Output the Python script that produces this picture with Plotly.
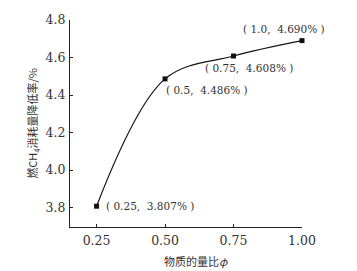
import plotly.graph_objects as go

ratio = [0.25, 0.50, 0.75, 1.00]
reduction = [3.807, 4.486, 4.608, 4.690]
labels = ["( 0.25,  3.807% )", "( 0.5,  4.486% )", "( 0.75,  4.608% )", "( 1.0,  4.690% )"]
x_ticks = [0.25, 0.50, 0.75, 1.00]
x_ticktext = ["0.25", "0.50", "0.75", "1.00"]
y_ticks = [3.8, 4.0, 4.2, 4.4, 4.6, 4.8]
y_ticktext = ["3.8", "4.0", "4.2", "4.4", "4.6", "4.8"]

num_font = "DejaVu Serif, serif"
cjk_font = "Noto Sans CJK SC"
txt_color = "#333333"

fig = go.Figure()
fig.add_trace(go.Scatter(
    x=ratio, y=reduction, mode="lines+markers",
    line=dict(color="#111111", width=1.2, shape="spline", smoothing=1.0),
    marker=dict(symbol="square", size=5, color="#111111"),
    showlegend=False, cliponaxis=False,
))

# label offsets (pixels) relative to each point
offs = [(7, 0), (-1, -11), (-31, -12), (-61, 12)]
for xv, yv, t, (dx, dy) in zip(ratio, reduction, labels, offs):
    fig.add_annotation(x=xv, y=yv, text=t, showarrow=False, xanchor="left", yanchor="middle",
                       xshift=dx, yshift=dy,
                       font=dict(family=num_font, size=10.5, color=txt_color))

# x-axis title
fig.add_annotation(x=0.547, y=-0.165, xref="paper", yref="paper", text="物质的量比<i>φ</i>",
                   showarrow=False, xanchor="center", yanchor="middle",
                   font=dict(family=cjk_font, size=11, color=txt_color))

fig.update_layout(
    width=357, height=271,
    margin=dict(l=70, r=55, t=15, b=44),
    paper_bgcolor="white", plot_bgcolor="white",
    font=dict(family=num_font, color=txt_color, size=12),
    xaxis=dict(range=[0.153, 1.0], tickvals=x_ticks, ticktext=x_ticktext,
               showgrid=False, zeroline=False, showline=True, linecolor="#222222", linewidth=1,
               ticks="inside", ticklen=3, tickcolor="#222222", ticklabelstandoff=2,
               tickfont=dict(family=num_font, size=12.5, color=txt_color)),
    yaxis=dict(range=[3.696, 4.8], tickvals=y_ticks, ticktext=y_ticktext,
               showgrid=False, zeroline=False, showline=True, linecolor="#222222", linewidth=1,
               ticks="inside", ticklen=3, tickcolor="#222222", ticklabelstandoff=1,
               tickfont=dict(family=num_font, size=12.5, color=txt_color),
               title=dict(text="燃CH<sub>4</sub>消耗量降低率/%", font=dict(family=cjk_font, size=11, color=txt_color), standoff=5)),
)

fig.write_html("out.html")
